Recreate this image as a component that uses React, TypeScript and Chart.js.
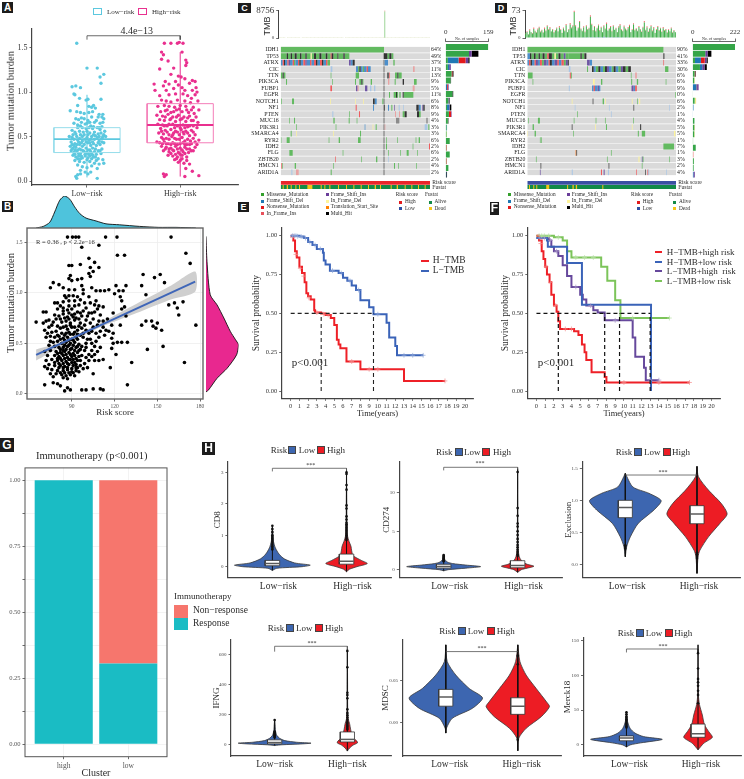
import React, { useEffect, useRef } from "react";
import { Chart, registerables } from "chart.js";
Chart.register(...registerables);

const SERIF = '"Liberation Serif"';
const SANS = '"Liberation Sans"';
const INK = "#2b2b2b";

/* ---------- Panel A ---------- */
const riskLabels = ["Low−risk", "High−risk"];
const aLowBox = [0.32, 0.47, 0.6];
const aHighBox = [0.43, 0.63, 0.87];
const aLowWhisk = [0.04, 0.97];
const aHighWhisk = [0.05, 1.45];
const aLowPts = [[0.89,1.55],[1.0,1.27],[1.11,1.27],[1.18,1.2],[1.14,1.17],[1.15,1.1],[0.84,1.06],[0.88,1.07],[0.93,1.05],[0.86,0.98],[0.87,0.97],[0.99,0.91],[1.01,0.92],[1.15,0.92],[0.92,0.93],[0.9,0.85],[1.02,0.84],[1.05,0.83],[1.07,0.85],[1.09,0.82],[0.82,0.79],[0.89,0.78],[0.93,0.77],[0.97,0.76],[1.13,0.75],[1.17,0.75],[1.16,0.72],[1.18,0.7],[0.88,0.7],[0.91,0.69],[0.94,0.71],[0.97,0.7],[1.01,0.68],[1.05,0.72],[1.08,0.66],[1.14,0.65],[1.17,0.66],[0.86,0.65],[0.9,0.63],[0.93,0.62],[0.98,0.64],[1.02,0.6],[1.04,0.62],[1.06,0.59],[1.11,0.6],[1.14,0.58],[1.19,0.56],[0.84,0.57],[0.87,0.55],[0.92,0.56],[0.96,0.55],[1.0,0.56],[1.03,0.54],[1.08,0.55],[1.12,0.53],[1.15,0.54],[1.18,0.52],[1.2,0.5],[0.81,0.5],[0.84,0.49],[0.86,0.47],[0.89,0.5],[0.92,0.48],[0.95,0.5],[0.98,0.47],[1.0,0.49],[1.02,0.46],[1.05,0.5],[1.08,0.47],[1.11,0.49],[1.13,0.45],[1.16,0.48],[0.83,0.44],[0.87,0.42],[0.91,0.44],[0.94,0.43],[0.97,0.41],[1.01,0.43],[1.04,0.4],[1.07,0.42],[1.1,0.4],[1.14,0.41],[1.18,0.43],[0.82,0.39],[0.85,0.37],[0.88,0.38],[0.92,0.36],[0.95,0.39],[0.99,0.37],[1.03,0.35],[1.06,0.37],[1.09,0.36],[1.12,0.34],[1.16,0.36],[0.83,0.34],[0.86,0.32],[0.89,0.33],[0.93,0.31],[0.96,0.34],[1.0,0.32],[1.02,0.3],[1.05,0.31],[1.1,0.3],[1.15,0.31],[0.85,0.29],[0.88,0.27],[0.91,0.28],[0.95,0.26],[0.98,0.28],[1.01,0.26],[1.07,0.27],[1.12,0.25],[1.17,0.24],[0.87,0.23],[0.92,0.22],[0.97,0.21],[1.03,0.22],[1.08,0.2],[1.13,0.19],[1.18,0.2],[0.9,0.18],[0.95,0.16],[1.0,0.15],[1.05,0.17],[1.11,0.14],[0.93,0.12],[0.98,0.1],[1.04,0.1],[1.01,0.08],[0.9,0.07],[0.93,0.08],[0.88,0.05],[0.89,0.03],[1.11,0.03]];
const aLowExtra = [[0.85,0.52],[0.88,0.53],[0.9,0.46],[0.93,0.52],[0.97,0.52],[1.01,0.52],[1.04,0.47],[1.07,0.52],[1.09,0.51],[1.13,0.5],[1.17,0.5],[0.84,0.41],[0.86,0.4],[0.89,0.41],[0.92,0.41],[0.95,0.45],[0.99,0.44],[1.03,0.43],[1.06,0.44],[1.12,0.43],[1.16,0.44],[0.84,0.36],[0.87,0.35],[0.9,0.35],[0.94,0.35],[0.97,0.33],[1.01,0.35],[1.04,0.33],[1.08,0.33],[1.14,0.34],[0.87,0.3],[0.91,0.31],[0.94,0.28],[0.98,0.3],[1.03,0.28],[1.06,0.29],[1.09,0.27],[0.9,0.25],[0.93,0.25],[1.0,0.24],[1.05,0.25],[1.1,0.23],[0.9,0.6],[0.95,0.6],[0.99,0.59],[1.07,0.61],[1.13,0.6],[1.16,0.61],[0.94,0.66],[1.0,0.65],[1.03,0.66],[1.1,0.68],[1.12,0.72],[1.02,0.77],[1.06,0.78]];
const aHighPts = [[1.83,1.55],[1.9,1.55],[1.97,1.55],[1.99,1.56],[2.03,1.55],[1.8,1.45],[1.82,1.42],[2.02,1.45],[1.8,1.37],[1.87,1.35],[2.06,1.36],[2.07,1.33],[1.78,1.26],[2.06,1.3],[1.93,1.27],[1.9,1.2],[1.98,1.18],[2.01,1.17],[2.05,1.15],[2.13,1.13],[2.16,1.12],[1.84,1.12],[1.95,1.12],[2.1,1.1],[1.72,1.09],[1.82,1.07],[1.88,1.09],[1.98,1.08],[2.02,1.05],[2.17,1.05],[1.73,1.02],[1.85,1.02],[1.93,1.04],[2.05,1.02],[2.13,1.02],[2.18,1.0],[1.78,0.96],[1.88,0.97],[1.95,0.98],[2.03,0.98],[2.08,0.96],[2.12,0.93],[2.16,0.97],[1.8,0.91],[1.85,0.9],[1.9,0.89],[1.97,0.91],[2.05,0.9],[2.11,0.88],[2.19,0.9],[1.76,0.84],[1.83,0.85],[1.88,0.84],[1.94,0.83],[2.0,0.85],[2.06,0.84],[2.14,0.83],[2.2,0.8],[1.79,0.78],[1.84,0.79],[1.9,0.77],[1.96,0.8],[2.02,0.78],[2.09,0.77],[2.15,0.76],[1.75,0.74],[1.81,0.73],[1.87,0.75],[1.92,0.72],[1.98,0.74],[2.04,0.72],[2.1,0.73],[2.17,0.72],[1.78,0.69],[1.83,0.68],[1.89,0.69],[1.95,0.67],[2.0,0.69],[2.06,0.67],[2.12,0.68],[2.19,0.66],[1.76,0.64],[1.81,0.63],[1.86,0.62],[1.92,0.64],[1.97,0.62],[2.03,0.63],[2.08,0.61],[2.14,0.62],[2.18,0.6],[1.79,0.59],[1.84,0.57],[1.9,0.58],[1.95,0.56],[2.01,0.58],[2.06,0.56],[2.12,0.57],[1.77,0.54],[1.82,0.53],[1.88,0.52],[1.93,0.54],[1.99,0.52],[2.04,0.53],[2.1,0.51],[2.16,0.52],[1.8,0.49],[1.85,0.48],[1.91,0.5],[1.96,0.47],[2.02,0.49],[2.08,0.47],[2.14,0.48],[2.2,0.46],[1.75,0.44],[1.78,0.43],[1.83,0.44],[1.87,0.42],[1.92,0.43],[1.97,0.41],[2.03,0.43],[2.07,0.41],[2.12,0.42],[2.18,0.41],[1.8,0.39],[1.85,0.38],[1.9,0.37],[1.95,0.39],[2.0,0.37],[2.05,0.38],[2.1,0.36],[2.16,0.38],[1.82,0.34],[1.88,0.33],[1.93,0.34],[1.98,0.32],[2.03,0.33],[2.09,0.32],[2.14,0.34],[1.87,0.29],[1.92,0.28],[1.97,0.27],[2.02,0.29],[2.07,0.27],[1.94,0.24],[2.0,0.23],[1.98,0.21],[2.04,0.2],[2.1,0.19],[2.06,0.14],[1.82,0.08],[1.85,0.07],[1.83,0.05],[2.13,0.11],[2.2,0.06],[2.05,0.05]];
const aHighExtra = [[1.86,0.8],[1.93,0.78],[1.99,0.81],[2.07,0.8],[2.12,0.8],[1.84,0.72],[1.9,0.7],[1.96,0.72],[2.02,0.7],[2.08,0.71],[2.14,0.68],[1.83,0.62],[1.88,0.64],[1.94,0.6],[2.0,0.6],[2.05,0.6],[2.1,0.62],[1.8,0.56],[1.86,0.55],[1.92,0.52],[1.97,0.55],[2.03,0.55],[2.08,0.54],[2.14,0.55],[1.82,0.47],[1.88,0.47],[1.94,0.48],[1.99,0.47],[2.05,0.45],[2.11,0.45],[2.16,0.44],[1.81,0.42],[1.85,0.42],[1.9,0.41],[1.94,0.42],[2.0,0.42],[2.05,0.41],[2.1,0.41],[1.84,0.36],[1.88,0.36],[1.92,0.35],[1.97,0.36],[2.02,0.35],[2.07,0.36],[2.12,0.34],[1.9,0.31],[1.95,0.3],[2.0,0.3],[2.05,0.31],[1.96,0.25],[2.02,0.25],[2.07,0.23]];

/* ---------- Panel B ---------- */
const bPts = [[87,1.55],[90.5,1.55],[92.8,1.55],[94.9,1.55],[113.7,1.55],[121.7,1.55],[159.6,1.55],[109,1.47],[97,1.45],[122,1.37],[127,1.37],[170,1.39],[102,1.34],[173,1.29],[106,1.3],[96,1.28],[109,1.25],[88,1.27],[90,1.27],[103,1.25],[105,1.21],[102,1.19],[103,1.16],[89,1.17],[88,1.14],[90,1.12],[94,1.13],[97,1.14],[140,1.18],[148,1.15],[152,1.18],[77,1.1],[75,1.05],[81,1.08],[84,1.05],[88,1.03],[92,1.03],[97,1.07],[98,1.03],[104,1.05],[107,1.02],[110,1.02],[113,1.02],[121,1.07],[128,1.07],[139,1.07],[155,1.1],[116,1.03],[123,1.02],[126,1.02],[85,0.97],[88,0.97],[91,0.97],[94,0.96],[98,0.99],[102,0.96],[120,0.99],[124,0.96],[142,0.98],[125,0.92],[78,0.9],[80,0.9],[84,0.91],[88,0.92],[92,0.92],[95,0.88],[99,0.9],[103,0.9],[106,0.88],[109,0.87],[112,0.86],[127,0.86],[158,0.88],[162,0.9],[168,0.91],[164,0.85],[165,0.78],[70,0.81],[72,0.81],[80,0.84],[84,0.85],[87,0.83],[90,0.84],[94,0.81],[98,0.82],[106,0.81],[108,0.84],[110,0.78],[119,0.8],[125,0.84],[128,0.77],[142,0.72],[146,0.72],[150,0.7],[78,0.78],[81,0.77],[84,0.79],[87,0.76],[90,0.78],[93,0.75],[97,0.77],[100,0.73],[105,0.74],[112,0.72],[65,0.71],[74,0.73],[77,0.71],[79,0.74],[83,0.71],[86,0.72],[89,0.7],[92,0.73],[96,0.7],[103,0.7],[108,0.68],[118,0.68],[124,0.68],[139,0.68],[147,0.67],[149,0.65],[153,0.63],[177,0.68],[76,0.68],[80,0.67],[84,0.66],[87,0.64],[90,0.66],[94,0.63],[97,0.65],[100,0.63],[71,0.63],[73,0.6],[79,0.62],[83,0.6],[86,0.6],[89,0.59],[92,0.61],[96,0.58],[102,0.6],[114,0.63],[119,0.6],[75,0.57],[78,0.56],[81,0.57],[84,0.55],[87,0.56],[90,0.54],[93,0.56],[98,0.56],[103,0.54],[109,0.56],[118,0.55],[77,0.51],[80,0.52],[83,0.5],[86,0.51],[89,0.5],[92,0.51],[95,0.49],[100,0.5],[106,0.47],[119,0.5],[122,0.51],[125,0.51],[129,0.51],[154,0.47],[118,0.45],[74,0.48],[78,0.47],[81,0.46],[84,0.46],[87,0.47],[90,0.45],[93,0.46],[96,0.44],[110,0.46],[143,0.44],[75,0.43],[79,0.42],[82,0.41],[85,0.42],[88,0.41],[91,0.4],[94,0.41],[99,0.43],[121,0.39],[78,0.38],[81,0.37],[84,0.38],[87,0.36],[90,0.37],[93,0.35],[97,0.38],[104,0.37],[76,0.34],[80,0.33],[83,0.33],[86,0.32],[89,0.34],[92,0.31],[96,0.33],[102,0.33],[109,0.33],[112,0.34],[132,0.31],[169,0.31],[74,0.29],[78,0.28],[82,0.28],[85,0.27],[88,0.29],[91,0.28],[94,0.26],[99,0.3],[73,0.25],[76,0.24],[80,0.23],[84,0.23],[87,0.24],[90,0.22],[93,0.23],[117,0.26],[79,0.2],[83,0.19],[86,0.18],[89,0.19],[92,0.18],[105,0.2],[84,0.16],[87,0.15],[71,0.09],[77,0.11],[80,0.1],[82,0.08],[87,0.06],[89,0.04],[85,0.03],[97,0.04],[100,0.04],[105,0.05],[110,0.05],[112,0.04],[129,0.09]];
const bDense = [[80,0.58],[82,0.54],[85,0.53],[88,0.53],[91,0.53],[94,0.54],[85,0.48],[88,0.48],[91,0.48],[94,0.47],[97,0.47],[82,0.44],[84,0.43],[86,0.44],[89,0.44],[92,0.43],[95,0.43],[80,0.4],[83,0.4],[86,0.39],[89,0.39],[92,0.38],[95,0.37],[80,0.35],[82,0.35],[85,0.35],[88,0.34],[91,0.34],[94,0.33],[78,0.31],[81,0.3],[84,0.3],[87,0.3],[90,0.31],[93,0.29],[96,0.28],[81,0.26],[84,0.26],[87,0.26],[90,0.25],[93,0.26],[82,0.21],[85,0.21],[88,0.21],[91,0.21],[95,0.22],[85,0.58],[88,0.61],[91,0.59],[94,0.59],[98,0.6],[82,0.65],[86,0.67],[89,0.68],[92,0.66],[95,0.67],[99,0.68],[82,0.74],[85,0.75],[88,0.74],[91,0.76],[95,0.74],[84,0.82],[88,0.8],[92,0.79],[96,0.8],[102,0.8],[75,0.52],[72,0.56],[76,0.61],[74,0.66],[72,0.72],[70,0.7],[101,0.54],[104,0.5],[107,0.52],[100,0.46],[104,0.43],[108,0.42],[102,0.39],[106,0.39],[100,0.36],[106,0.33],[98,0.25],[101,0.26],[104,0.62],[107,0.6],[110,0.62],[113,0.58],[112,0.66],[116,0.62],[105,0.66],[109,0.72],[115,0.74],[101,0.77],[104,0.8],[107,0.92],[100,0.85],[88,0.87],[92,0.87],[82,0.87],[96,0.93],[86,0.95],[73,0.38],[71,0.42],[72,0.33],[71,0.27],[75,0.2],[77,0.17]];
const bFit = [[65,0.386],[176.5,1.11]];
const bBandX = [65,80,90,100,110,120,140,160,176.5];
const bBandHigh = [0.44,0.5,0.565,0.63,0.7,0.775,0.925,1.075,1.21];
const bBandLow = [0.33,0.45,0.53,0.59,0.66,0.715,0.825,0.935,1.01];
const bTopX = [65,70,74.6,78,81.6,85,88.6,92,95.6,100,107,114,123.5,137.5,151,163,177];
const bTopD = [0,0.05,0.18,0.5,0.87,1,0.9,0.66,0.45,0.31,0.22,0.13,0.1,0.05,0.02,0.02,0];
const bSideY = [1.557,1.31,0.98,0.88,0.75,0.617,0.535,0.485,0.386,0.254,0.155,0.04,0.02];
const bSideD = [0,0.03,0.13,0.34,0.55,0.75,0.91,1,0.94,0.65,0.34,0.08,0];

/* ---------- Panels C, D (oncoplots) ---------- */
const genesC = ["IDH1","TP53","ATRX","CIC","TTN","PIK3CA","FUBP1","EGFR","NOTCH1","NF1","PTEN","MUC16","PIK3R1","SMARCA4","RYR2","IDH2","FLG","ZBTB20","HMCN1","ARID1A"];
const pctC = ["64%","49%","37%","11%","13%","9%","5%","11%","6%","8%","9%","4%","3%","3%","6%","2%","6%","2%","4%","2%"];
const pctD = ["90%","41%","33%","30%","6%","6%","9%","0%","6%","2%","1%","4%","5%","5%","1%","7%","1%","3%","2%","4%"];
const typeColor: Record<string,string> = { g:"#8b8b8b", m:"#62BA60", b:"#4C8FCB", r:"#EE5A5C", p:"#6E55A3", y:"#FFF59A", o:"#F59A5B", k:"#333333", q:"#E8A3A3", l:"#A8C6E6" };
type Seg = [number,number,string];
const cHeatRows: Seg[][] = [
 [[0,310,"m"]],
 [[0,18,"m"],[18,22,"k"],[22,30,"m"],[30,34,"k"],[34,42,"m"],[42,48,"k"],[48,58,"m"],[58,62,"k"],[62,74,"m"],[74,78,"k"],[78,90,"m"],[90,93,"y"],[93,100,"m"],[100,106,"k"],[106,116,"m"],[116,122,"k"],[122,135,"m"],[135,140,"k"],[140,150,"m"],[150,153,"r"],[153,158,"k"],[158,170,"m"],[170,173,"k"],[173,188,"m"],[188,192,"k"],[192,206,"m"],[310,320,"k"],[320,326,"m"],[326,332,"k"],[332,338,"m"]],
 [[0,6,"b"],[6,10,"r"],[10,13,"k"],[13,20,"b"],[20,24,"r"],[24,28,"p"],[28,36,"b"],[36,40,"r"],[40,44,"m"],[44,52,"b"],[52,56,"r"],[56,60,"k"],[60,68,"b"],[68,74,"r"],[74,78,"p"],[78,88,"b"],[88,92,"r"],[92,100,"b"],[100,106,"r"],[106,110,"k"],[110,118,"b"],[118,124,"r"],[124,128,"k"],[128,136,"b"],[136,140,"r"],[140,148,"m"],[205,210,"p"],[210,216,"b"],[216,222,"k"],[312,322,"b"],[338,342,"m"]],
 [[150,155,"l"],[226,232,"b"],[232,236,"m"],[236,240,"k"],[240,246,"b"],[246,250,"m"],[250,258,"b"],[258,262,"r"],[262,270,"b"],[397,402,"q"]],
 [[0,6,"m"],[6,9,"k"],[9,14,"m"],[150,152,"m"],[225,235,"m"],[320,324,"k"],[326,328,"r"],[343,350,"m"],[350,353,"k"],[353,363,"m"]],
 [[16,19,"m"],[154,156,"m"],[223,226,"m"],[236,242,"m"],[242,245,"k"],[245,248,"m"],[270,274,"m"],[322,326,"q"],[342,345,"m"],[366,370,"k"],[400,408,"m"]],
 [[149,154,"r"],[226,230,"p"],[230,234,"q"],[253,260,"p"],[268,272,"l"],[280,284,"l"],[396,402,"q"]],
 [[325,328,"m"],[339,346,"m"],[346,349,"k"],[349,352,"m"],[356,360,"m"],[366,369,"k"],[369,398,"m"]],
 [[1,3,"m"],[34,40,"m"],[148,150,"y"],[223,225,"y"],[248,250,"y"],[277,282,"k"],[282,288,"b"],[305,308,"m"]],
 [[225,228,"r"],[277,280,"b"],[310,312,"k"],[322,325,"b"],[332,335,"m"],[341,343,"p"],[354,357,"l"],[368,370,"l"],[407,414,"k"],[414,420,"b"],[425,428,"p"],[428,432,"k"]],
 [[155,158,"l"],[205,207,"m"],[235,238,"r"],[343,346,"q"],[355,358,"q"],[366,372,"m"],[372,378,"k"],[409,415,"k"],[415,420,"m"]],
 [[25,27,"m"],[40,43,"m"],[158,162,"m"],[204,207,"m"],[228,230,"m"],[346,356,"g"],[438,440,"k"]],
 [[46,48,"m"],[165,167,"m"],[252,254,"b"],[276,278,"y"],[285,288,"m"],[312,314,"q"],[432,440,"l"],[443,446,"m"]],
 [[30,33,"m"],[46,48,"y"],[158,160,"y"],[238,241,"m"]],
 [[0,2,"m"],[18,27,"m"],[144,146,"m"],[174,178,"m"],[232,240,"m"],[316,318,"m"],[350,352,"m"],[405,407,"m"],[414,418,"m"]],
 [[316,319,"m"],[396,398,"m"],[445,448,"r"]],
 [[26,36,"m"],[186,188,"m"],[322,324,"m"],[358,360,"m"],[378,384,"m"],[410,412,"m"]],
 [[163,165,"r"],[242,244,"m"],[286,290,"m"],[322,324,"l"]],
 [[2,4,"r"],[4,6,"m"],[42,46,"m"],[158,160,"m"],[340,343,"m"],[352,354,"m"],[406,408,"m"]],
 [[32,35,"l"],[46,54,"q"],[150,153,"m"]],
];
const cHotColumn = [308,312];
const cFustatYellow = [[6,9],[18,22],[30,33],[44,47],[55,58],[80,95],[120,123],[131,134],[146,149],[172,175],[196,199],[218,221],[240,243],[262,265],[282,286],[298,301],[330,333],[348,352],[372,375],[392,395],[412,415],[432,435]];
const dHeatRows: Seg[][] = [
 [[0,410,"m"]],
 [[0,8,"b"],[8,12,"k"],[12,20,"m"],[20,25,"k"],[25,34,"m"],[34,38,"k"],[38,46,"m"],[46,52,"k"],[52,60,"m"],[60,65,"r"],[65,74,"k"],[74,82,"m"],[82,86,"y"],[86,94,"m"],[94,100,"k"],[100,110,"m"],[110,115,"p"],[115,125,"m"],[125,160,"m"],[160,164,"k"],[164,172,"m"],[172,178,"k"],[410,413,"k"]],
 [[0,5,"b"],[5,10,"r"],[10,14,"k"],[14,22,"b"],[22,26,"r"],[26,32,"p"],[32,38,"b"],[38,44,"r"],[44,50,"m"],[50,58,"p"],[58,64,"b"],[64,68,"r"],[68,74,"k"],[74,82,"b"],[82,90,"p"],[90,95,"r"],[95,103,"b"],[103,110,"r"],[110,116,"m"],[116,122,"p"],[122,125,"k"],[180,188,"p"],[188,195,"b"],[410,412,"r"]],
 [[125,130,"l"],[180,183,"m"],[195,200,"k"],[200,206,"b"],[206,214,"m"],[214,220,"k"],[220,228,"b"],[228,234,"m"],[234,240,"k"],[240,246,"p"],[246,254,"b"],[254,260,"m"],[260,266,"k"],[266,274,"b"],[274,282,"m"],[282,288,"p"],[288,296,"k"],[296,304,"m"],[304,312,"k"],[415,425,"m"]],
 [[2,16,"m"],[128,131,"r"],[131,134,"m"],[312,314,"m"],[325,330,"q"]],
 [[16,18,"m"],[198,203,"y"],[222,226,"m"],[313,316,"m"],[330,334,"m"],[417,419,"m"]],
 [[125,128,"l"],[195,200,"b"],[200,204,"r"],[204,212,"b"],[212,216,"p"],[216,220,"b"],[314,320,"p"],[320,325,"b"],[325,330,"r"]],
 [[446,448,"m"]],
 [[134,136,"y"],[197,199,"k"],[227,231,"m"],[235,237,"y"],[315,317,"y"],[331,333,"m"],[337,340,"y"]],
 [[143,145,"l"],[246,248,"l"],[320,322,"k"],[428,430,"l"]],
 [[150,152,"m"],[252,254,"l"]],
 [[2,4,"m"],[32,38,"m"],[140,142,"m"],[206,208,"m"],[234,236,"m"],[319,321,"m"]],
 [[16,20,"m"],[134,136,"k"],[204,206,"y"],[237,240,"m"],[315,317,"y"],[340,343,"k"]],
 [[0,2,"y"],[22,26,"m"],[138,140,"m"],[333,336,"m"],[345,355,"m"],[442,446,"y"]],
 [[38,40,"m"],[42,44,"m"]],
 [[410,442,"m"]],
 [[145,148,"o"],[148,150,"k"],[252,254,"m"]],
 [[26,28,"m"],[240,242,"m"],[335,338,"y"],[345,347,"p"],[347,350,"m"],[428,430,"m"]],
 [[40,42,"k"],[245,247,"k"],[345,347,"m"]],
 [[38,40,"p"],[134,137,"l"],[222,225,"r"],[230,233,"p"],[243,246,"l"],[328,330,"r"],[355,357,"k"],[362,364,"r"],[364,367,"l"],[418,420,"l"]],
];
const dFustatYellow = [[5,8],[18,21],[27,30],[57,66],[120,123],[136,140],[146,150],[226,229]];
const tmbCTiny = [90,70,110,60,80,120,70,90,60,100,80,70,110,90,60,80,120,70,60,90,100,70,80,60,110,90,70,80,100,60,90,70,80,110,60,90,70,100,80,60,90,110,70,80,60,100,90,70,120,80,60,90,70,100,80,60,110,70,90,80,60,100,70,90,80,110,60,70,100,80,90,60,110,70,80,90,70,80,100,60,90,110,70,80,60,100,90,70,80,60,110,90,70,100,60,80,90,70,110,80,60,90,100,70,80,60,90,70,110,80,90,70];
const tmbCMain = [0,0,0,0,0,0,0,0,0,0,0,0,0,0,0,0,0,0,0,0,0,0,0,0,0,0,0,0,0,0,0,0,0,0,0,0,0,0,0,0,0,0,0,0,0,0,0,0,0,0,0,0,0,0,0,0,0,0,0,0,0,0,0,0,0,0,0,0,0,0,0,0,0,0,0,0,0,0,8300,0,0,0,0,0,0,0,0,0,0,0,0,0,0,0,0,0,0,0,0,0,0,0,0,0,0,0,0,0,0,0,0,0];
const tmbCTop = [0,0,0,0,0,0,0,0,0,0,0,0,0,0,0,0,0,0,0,0,0,0,0,0,0,0,0,0,0,0,0,0,0,0,0,0,0,0,0,0,0,0,0,0,0,0,0,0,0,0,0,0,0,0,0,0,0,0,0,0,0,0,0,0,0,0,0,0,0,0,0,0,0,0,0,0,0,0,370,0,0,0,0,0,0,0,0,0,0,0,0,0,0,0,0,0,0,0,0,0,0,0,0,0,0,0,0,0,0,0,0,0];
const tmbDMain = [12,16,9,20,14,11,24,17,13,22,27,15,19,14,24,18,30,21,26,16,22,14,19,24,17,28,20,13,25,18,33,15,21,36,26,30,67,30,19,25,41,22,17,26,14,30,20,24,54,33,19,27,16,23,31,18,25,14,28,21,36,17,23,27,15,30,19,24,13,26,33,20,16,29,22,18,25,31,14,21,35,19,24,17,28,22,15,26,40,20,27,16,23,30,18,25,13,21,28,19,24,16,26,18,22,14,20,17,25,13,19,15];
const tmbDBlue = [0,0,0,0,1,0,0,0,1,0,0,0,1,0,0,0,1,0,0,1,0,0,0,1,0,0,1,0,0,0,1,0,1,0,0,1,2,1,0,1,1,1,1,2,1,1,2,1,2,2,1,2,1,2,2,1,2,1,3,2,1,2,1,2,2,1,2,1,2,2,1,1,2,1,1,2,1,1,1,0,1,1,0,1,1,0,1,1,1,0,1,0,1,1,0,1,0,0,1,0,1,0,0,1,0,0,1,0,0,1,0,0];
const tmbDRed = [1,2,1,3,1,2,4,2,1,3,3,2,2,1,4,2,3,2,3,1,2,2,2,3,1,4,2,1,3,2,3,1,2,4,2,3,4,3,1,2,3,2,1,3,2,3,2,2,4,3,1,3,2,2,3,2,3,1,3,2,4,1,2,3,2,3,1,2,1,3,3,2,1,3,2,2,3,3,1,2,3,2,2,1,3,2,1,3,4,2,3,1,2,3,2,3,1,2,3,2,2,1,3,2,2,1,2,1,3,1,2,1];
/* stacked "No. of samples" bars, gene order as genesC */
const cBarM = [159,87,8,8,22,18,0,25,10,5,12,8,3,3,15,2,15,2,10,0];
const cBarB = [0,0,40,5,0,0,5,0,0,8,0,0,2,0,0,0,0,0,0,2];
const cBarR = [0,0,26,0,3,0,3,0,0,0,8,0,0,0,0,2,0,2,0,0];
const cBarP = [0,10,10,6,0,0,3,0,3,2,2,0,0,0,0,0,0,0,0,0];
const cBarY = [0,0,0,0,0,0,0,0,0,0,0,0,0,2,0,0,0,0,0,0];
const cBarK = [0,25,5,0,4,2,0,3,2,6,0,2,0,0,0,0,0,0,0,3];
const dBarM = [222,66,12,38,10,8,0,1,10,0,0,9,8,8,2,16,1,6,5,0];
const dBarB = [0,0,31,12,0,0,20,0,0,4,1,0,0,0,0,0,0,0,0,4];
const dBarR = [0,0,20,0,3,0,3,0,0,0,0,0,0,0,0,0,2,0,0,0];
const dBarP = [0,12,9,12,0,0,8,0,0,0,0,0,0,0,0,0,0,0,0,7];
const dBarY = [0,0,0,0,0,3,0,0,8,0,0,0,3,3,0,0,0,1,0,0];
const dBarK = [0,20,7,12,3,0,0,0,0,0,0,0,1,0,0,0,0,0,0,0];

/* ---------- Panels E, F (survival) ---------- */
const eHigh = [[0,1],[0.3,0.97],[0.5,0.9],[0.7,0.86],[1,0.8],[1.3,0.76],[1.6,0.7],[1.8,0.63],[2,0.61],[2.3,0.59],[2.7,0.52],[2.8,0.505],[3.5,0.5],[4,0.49],[4.6,0.47],[5,0.425],[5.3,0.33],[5.5,0.3],[5.7,0.275],[6.4,0.19],[8,0.14],[13,0.065],[17.7,0.065]];
const eLow = [[0,1],[1,0.995],[1.5,0.985],[2,0.96],[2.5,0.94],[3,0.915],[3.7,0.89],[3.8,0.84],[4,0.815],[4.5,0.775],[5.5,0.76],[6,0.73],[6.5,0.71],[7,0.68],[7.5,0.65],[8,0.585],[9,0.54],[9.5,0.495],[11,0.44],[11.3,0.345],[12,0.29],[12.2,0.23],[15.2,0.23]];
const eHighCens = [[0.2,0.99],[0.6,0.88],[1.1,0.79],[1.5,0.74],[2.1,0.6],[3,0.505],[3.8,0.495],[4.3,0.49],[7,0.19],[9,0.14],[10,0.14],[17.7,0.065]];
const eLowCens = [[0.2,1],[0.4,1],[0.6,1],[0.8,0.997],[1.2,0.995],[1.7,0.985],[2.2,0.96],[2.8,0.94],[3.4,0.915],[4.8,0.775],[5.8,0.76],[6.8,0.71],[7.8,0.65],[10,0.495],[13,0.23],[14,0.23],[15.2,0.23]];
const eCuts = [3.5,9.5];
const fHH = [[0,1],[0.3,0.97],[0.6,0.9],[0.8,0.85],[1,0.8],[1.2,0.75],[1.5,0.7],[1.7,0.62],[2,0.55],[2.3,0.51],[2.5,0.45],[2.7,0.4],[4.3,0.385],[4.8,0.36],[5.2,0.3],[5.5,0.25],[5.7,0.2],[6.3,0.12],[7.8,0.09],[8,0.055],[17.5,0.055]];
const fHL = [[0,0.985],[1.2,0.97],[1.3,0.93],[3.5,0.825],[5.2,0.555],[13.1,0]];
const fLH = [[0,0.985],[1.4,0.97],[1.7,0.93],[2,0.9],[2.5,0.87],[3,0.81],[3.5,0.74],[4,0.67],[5,0.62],[5.3,0.59],[5.7,0.55],[6.5,0.52],[7,0.505],[7.8,0.455],[11,0.345],[11.3,0.22],[12.3,0.15],[12.5,0.07],[14,0.07]];
const fLL = [[0,1],[2,0.99],[3,0.97],[3.5,0.9],[4,0.86],[7.4,0.8],[8.1,0.71],[9,0.585],[9.6,0.47],[15.2,0.47]];
const fHHCens = [[0.5,0.95],[1.1,0.8],[1.6,0.7],[2.2,0.55],[3.3,0.4],[4,0.4],[10,0.055],[14,0.055],[17.5,0.055]];
const fLLCens = [[0.3,1],[0.6,1],[0.9,1],[1.4,1],[2.5,0.99],[4.5,0.86],[5.5,0.86],[6.5,0.86],[11,0.47],[15.2,0.47]];
const fLHCens = [[0.4,0.985],[0.9,0.985],[1.6,0.97],[2.3,0.9],[4.5,0.67],[6.2,0.55],[9,0.455],[13,0.07],[14,0.07]];
const fCuts = [2.5,7.8,9.5,13];

/* ---------- Panel G ---------- */
const gClusters = ["high","low"];
const gResponse = [1,0.305];
const gNonResponse = [0,0.695];

/* ---------- Panel H (violins): value / half width pairs ---------- */
const cd8LowV = [-0.12,-0.05,0,0.05,0.12,0.25,0.4,0.6,0.8,1,1.3];
const cd8LowW = [0,0.06,0.4,0.51,0.3,0.16,0.09,0.04,0.015,0.008,0];
const cd8HighV = [-0.16,-0.08,0,0.1,0.2,0.35,0.5,0.65,0.8,1,1.5,2.2,3.05];
const cd8HighW = [0,0.04,0.14,0.28,0.2,0.09,0.07,0.06,0.035,0.012,0.005,0.003,0];
const cd8Box = [[0.03,0.1,0.2],[0.08,0.17,0.4]];
const cd8Out = [[0.55,0.6,0.65,0.7,0.75,0.8,0.85,0.9,0.95,1,1.1,1.2,1.3],[0.85,0.9,0.95,1,1.05,1.1,1.15,1.2,1.25,1.3,1.35,1.4,1.5,1.6,1.85,1.95,2.45,2.6,2.95,3]];
const cd274LowV = [-0.15,0,0.2,0.4,0.6,0.8,1,1.4,1.9];
const cd274LowW = [0,0.06,0.3,0.5,0.3,0.12,0.05,0.01,0];
const cd274HighV = [-0.35,0,0.2,0.45,0.7,1,1.5,2,3,6,9,13];
const cd274HighW = [0,0.05,0.13,0.22,0.13,0.07,0.03,0.015,0.006,0.003,0.002,0];
const cd274Box = [[0.2,0.42,0.7],[0.25,0.55,1.17]];
const cd274Out = [[1.1,1.2,1.3,1.4,1.5,1.6,1.7,1.8,1.9],[1.8,2,2.3,2.6,2.9,3.2,3.6,4,4.5,5,5.6,6,7,8,12.7]];
const exLowV = [1.42,1.21,1.11,0.995,0.85,0.64,0.43,0.28,0.12];
const exLowW = [0,0.105,0.33,0.5,0.4,0.18,0.07,0.02,0];
const exHighV = [1.53,1.37,1.16,0.95,0.786,0.64,0.43,0.22,0.12,-0.14];
const exHighW = [0,0.02,0.16,0.34,0.42,0.32,0.16,0.04,0.015,0];
const exBox = [[0.73,0.89,1],[0.635,0.786,0.917]];
const exOut = [[0.25,0.28,0.3],[0.1,0.13,0.16,0.18]];
const ifLowV = [-8,-3,3,8,14,25,40,60,90,130,165];
const ifLowW = [0,0.1,0.38,0.5,0.3,0.14,0.07,0.03,0.012,0.006,0];
const ifHighV = [-45,-25,-5,10,22,40,70,100,140,170,250,400,620];
const ifHighW = [0,0.03,0.08,0.14,0.13,0.09,0.06,0.045,0.03,0.012,0.004,0.003,0];
const ifBox = [[3,12,30],[16,33,83]];
const ifOut = [[45,50,55,60,65,70,75,80,85,163],[100,110,120,130,140,150,165,180,195,210,235,308,330,345,516,625]];
const ifTicks = [0,200,400,600];
const mdLowV = [0.093,0.073,0.057,0.041,0.0298,0.0175,0.0056,-0.006,-0.012];
const mdLowW = [0,0.02,0.14,0.326,0.51,0.37,0.09,0.01,0];
const mdHighV = [0.093,0.073,0.057,0.041,0.025,0.0194,0.0075,-0.0063,-0.018,-0.033];
const mdHighW = [0,0.03,0.116,0.256,0.4,0.44,0.326,0.116,0.014,0];
const mdBox = [[0.02,0.031,0.04],[0.0103,0.02,0.03]];
const mdOut = [[],[0.08,0.07,-0.02]];
const meLowV = [-3,0,3,8,12,17,24,34,48];
const meLowW = [0,0.05,0.2,0.5,0.24,0.12,0.05,0.015,0];
const meHighV = [-7,2.4,11,19,29,43,58,72,144];
const meHighW = [0,0.08,0.2,0.15,0.09,0.06,0.02,0.005,0];
const meBox = [[6,10,13],[11,16,30]];
const meOut = [[25,27,29,31,33,35,37,39,41,44,47],[60,72,78,85,90,95,110,132]];

/* ---------- colours ---------- */
const CYAN = "#5CC8DF", PINK = "#E9308F", VBLUE = "#3D66B0", VRED = "#ED1C24";
const KRED = "#EE2027", KBLUE = "#3A63B8", KPURPLE = "#66489C", KGREEN = "#7CC45A";

/* ---------- dataset helpers ---------- */
const pts = (a: number[][]) => a.map(([x, y]) => ({ x, y }));
const line = (a: number[][], color: string, width = 1, extra: any = {}) => ({
  type: "scatter", data: pts(a), showLine: true, borderColor: color, borderWidth: width, pointRadius: 0, backgroundColor: color, ...extra,
});
const dots = (a: number[][], color: string, r = 1.7, extra: any = {}) => ({
  type: "scatter", data: pts(a), showLine: false, pointRadius: r, pointBorderWidth: 0, pointBackgroundColor: color, backgroundColor: color, ...extra,
});
const shape = (a: number[][], fill: string, stroke: string, width = 0.8) =>
  line(a, stroke, width, { fill: "shape", backgroundColor: fill, tension: 0.25 });
const rectPath = (c: number, hw: number, lo: number, hi: number) => [[c - hw, lo], [c + hw, lo], [c + hw, hi], [c - hw, hi], [c - hw, lo]];

function violin(c: number, vals: number[], ws: number[], color: string, box: number[], out: number[]) {
  const right = vals.map((v, i) => [c + ws[i], v]);
  const left = vals.map((v, i) => [c - ws[i], v]).reverse();
  return [
    shape([...right, ...left], color, "#3a3a3a", 0.8),
    line([[c, vals[0]], [c, vals[vals.length - 1]]], "#111", 1),
    dots(out.map((v) => [c, v]), "#111", 1.3),
    line(rectPath(c, 0.098, box[0], box[2]), "#333", 0.8, { fill: "shape", backgroundColor: "#fff" }),
    line([[c - 0.098, box[1]], [c + 0.098, box[1]]], "#5a5a5a", 1.5),
  ];
}

/* ---------- axis helper ---------- */
function lin(min: number, max: number, step: number, o: any = {}) {
  const keep = o.ticksAt
    ? (s: any) => { s.ticks = o.ticksAt.map((value: number) => ({ value })); }
    : o.keepFrom !== undefined
    ? (s: any) => { s.ticks = s.ticks.filter((t: any) => t.value >= o.keepFrom && t.value <= (o.keepTo ?? Infinity)); }
    : undefined;
  return {
    type: "linear", min, max,
    ...(o.stacked ? { stacked: true } : {}),
    ...(o.offsetFalse ? { offset: false } : {}),
    ...(o.position ? { position: o.position } : {}),
    ...(keep ? { afterBuildTicks: keep } : {}),
    ticks: {
      stepSize: step, includeBounds: false, autoSkip: false, maxRotation: 0, padding: o.pad ?? 2,
      labelOffset: o.labelOffset ?? 0,
      font: o.fontFn ?? { family: SERIF, size: o.size ?? 7 }, color: o.color ?? "#333",
      ...(o.cb ? { callback: o.cb } : {}),
    },
    grid: {
      display: true, drawOnChartArea: !!o.gridColor, color: o.gridColor ?? "#eee", lineWidth: 0.8, offset: false,
      drawTicks: o.noTick ? false : true, tickLength: o.tl ?? 2.5, tickColor: "#444", tickWidth: 0.8,
    },
    border: { display: !o.noBorder, color: o.borderColor ?? "#444", width: o.bw ?? 1.2 },
    ...(o.title ? { title: { display: true, text: o.title, padding: 0, color: o.titleColor ?? INK, font: { family: SERIF, size: o.titleSize ?? 9.5 } } } : {}),
  };
}
const hidden = (min: number, max: number, o: any = {}) => ({ type: "linear", display: false, min, max, ...o });
const riskTick = (v: number) => (v === 1 ? riskLabels[0] : v === 2 ? riskLabels[1] : "");
const frame = (color: string, w: number) => ({
  id: "frame",
  afterDraw(chart: any) {
    const { ctx, chartArea: a } = chart;
    ctx.save(); ctx.strokeStyle = color; ctx.lineWidth = w;
    ctx.strokeRect(a.left, a.top, a.right - a.left, a.bottom - a.top); ctx.restore();
  },
});

/* ---------- oncoplot helpers ---------- */
const rowBar = { grouped: false, barPercentage: 0.9, categoryPercentage: 1 };
function heatSpec(box: number[], plot: number[], rows: Seg[][], extraCol?: number[]) {
  const codes = ["g", "m", "y", "l", "q", "b", "r", "o", "p", "k"];
  const datasets: any[] = [{ data: genesC.map((g) => ({ x: [0, 448], y: g })), backgroundColor: "#DADADA", ...rowBar }];
  for (const c of codes) {
    const data: any[] = [];
    rows.forEach((row, i) => row.forEach(([s, e, t]) => { if (t === c) data.push({ x: [s, e], y: genesC[i] }); }));
    if (c === "g" && extraCol) genesC.slice(1).forEach((g) => data.push({ x: extraCol, y: g }));
    datasets.push({ data, backgroundColor: typeColor[c], ...rowBar });
  }
  return {
    box, plot, type: "bar", labels: genesC, indexAxis: "y", datasets,
    scales: {
      x: hidden(0, 448),
      y: { type: "category", grid: { display: false, drawTicks: false, offset: true }, border: { display: false },
           ticks: { autoSkip: false, padding: 2, color: "#222", font: { family: SERIF, size: 5.8 } } },
    },
  };
}
function withPct(spec: any, pct: string[]) {
  spec.scales.y2 = { type: "category", labels: pct, position: "right", grid: { display: false, drawTicks: false, offset: true }, border: { display: false },
    ticks: { autoSkip: false, padding: 1, color: "#222", font: { family: SERIF, size: 5.8 } } };
  return spec;
}
function annotSpec(box: number[], plot: number[], risk: string, yellow: number[][]) {
  const rowsL = ["Risk score", "Fustat"];
  const b = { grouped: false, barPercentage: 0.92, categoryPercentage: 1 };
  return {
    box, plot, type: "bar", labels: rowsL, indexAxis: "y",
    datasets: [
      { data: [{ x: [0, 448], y: rowsL[0] }], backgroundColor: risk, ...b },
      { data: [{ x: [0, 448], y: rowsL[1] }], backgroundColor: "#128A48", ...b },
      { data: yellow.map((s) => ({ x: s, y: rowsL[1] })), backgroundColor: "#F5C518", ...b },
    ],
    scales: { x: hidden(0, 448), y: { type: "category", display: false } },
  };
}
function barsSpec(box: number[], plot: number[], max: number, arrs: number[][]) {
  const cols = ["#35A548", "#1F78B4", "#E31A1C", "#6A3D9A", "#EDE98A", "#000"];
  return {
    box, plot, type: "bar", labels: genesC, indexAxis: "y", keepOrder: true,
    datasets: arrs.map((a, i) => ({ data: a, backgroundColor: cols[i], barPercentage: 0.88, categoryPercentage: 1 })),
    scales: { x: hidden(0, max, { stacked: true }), y: { type: "category", display: false, stacked: true } },
  };
}
function topAxisSpec(box: number[], plot: number[], max: number) {
  return {
    box, plot, type: "scatter", datasets: [],
    scales: { x: lin(0, max, max, { position: "top", size: 7, bw: 0.8 }), y: hidden(0, 1) },
  };
}
function tmbSpec(box: number[], plot: number[], max: number, n: number, series: { d: number[]; c: string }[]) {
  return {
    box, plot, type: "bar", keepOrder: true, labels: series[0].d.map((_, i) => String(i)),
    datasets: series.map((s) => ({ data: s.d, backgroundColor: s.c, barPercentage: n, categoryPercentage: 1 })),
    scales: {
      x: { type: "category", display: false, stacked: true },
      y: lin(0, max, max, { stacked: true, bw: 1, cb: (v: number) => String(v), fontFn: (c: any) => ({ family: SERIF, size: c.tick && c.tick.value > 0 ? 9 : 5 }) }),
    },
  };
}
function vioSpec(box: number[], plot: number[], yr: number[], title: string, labelOffset: number, sets: any[], yo: any = {}) {
  return {
    box, plot, type: "scatter", datasets: sets,
    scales: {
      x: lin(0.4, 2.6, 1, { cb: riskTick, size: 9.5, noTick: true, labelOffset, color: INK, pad: 3 }),
      y: lin(yr[0], yr[1], yr[2], { size: 5, title, titleSize: 9, color: "#444", ...yo }),
    },
  };
}
const bracket = (v: number, tick?: number) => line(tick !== undefined ? [[1, tick], [1, v], [2, v], [2, tick]] : [[1, v], [2, v]], "#555", 0.8);

/* ---------- chart list ---------- */
const aYMin = -0.045, aYMax = 1.71;
const bXMin = 58.6, bXMax = 182, bYMin = -0.05, bYMax = 1.64;
const kmY = { min: -0.047, max: 1.05 };
const kmYAxis = () => lin(kmY.min, kmY.max, 0.25, { size: 6.5, cb: (v: number) => v.toFixed(2), title: "Survival probability", titleSize: 9.5 });
const kmXAxis = (min: number, max: number) => lin(min, max, 1, { size: 6.5, keepFrom: 0, keepTo: 20, title: "Time(years)", titleSize: 8.5 });

const specs: any[] = [
  // A
  { box: [5, 22, 242, 200], plot: [32, 29, 238, 185], type: "scatter",
    datasets: [
      dots(aLowPts, CYAN, 1.7), dots(aLowExtra, CYAN, 1.7), dots(aHighPts, PINK, 1.7), dots(aHighExtra, PINK, 1.7),
      line([[1, aLowWhisk[0]], [1, aLowWhisk[1]]], CYAN, 1), line([[2, aHighWhisk[0]], [2, aHighWhisk[1]]], PINK, 1),
      line(rectPath(1, 0.355, aLowBox[0], aLowBox[2]), "#96DDEB", 1), line(rectPath(2, 0.355, aHighBox[0], aHighBox[2]), "#F47DB8", 1),
      line([[0.645, aLowBox[1]], [1.355, aLowBox[1]]], CYAN, 1.8), line([[1.645, aHighBox[1]], [2.355, aHighBox[1]]], PINK, 1.8),
      line([[1, 1.59], [1, 1.634], [2, 1.634], [2, 1.59]], "#444", 0.8),
    ],
    scales: {
      x: lin(0.41, 2.62, 1, { cb: riskTick, size: 8 }),
      y: lin(aYMin, aYMax, 0.5, { size: 8, cb: (v: number) => v.toFixed(1) }),
    } },
  // B top density
  { box: [27, 192, 203, 230], plot: [27, 196, 203, 228], type: "scatter",
    datasets: [shape(bTopX.map((x, i) => [x, bTopD[i]]), "#4EC3DC", "#111", 0.9)],
    scales: { x: hidden(bXMin, bXMax), y: hidden(0, 1) } },
  // B side density
  { box: [204, 226, 242, 401], plot: [206, 228, 238.5, 399], type: "scatter",
    datasets: [shape(bSideY.map((y, i) => [bSideD[i], y]), "#E8288F", "#111", 0.9)],
    scales: { x: hidden(0, 1), y: hidden(bYMin, bYMax) } },
  // B main
  { box: [5, 222, 210, 418], plot: [27, 228, 203, 399], type: "scatter", plugins: [frame("#666", 1.4)],
    datasets: [
      shape([...bBandX.map((x, i) => [x, bBandHigh[i]]), ...bBandX.map((x, i) => [x, bBandLow[i]]).reverse()], "#CFCFCF", "rgba(0,0,0,0)", 0),
      dots(bPts, "#000", 1.8), dots(bDense, "#000", 1.8),
      line(bFit, "#3F66B8", 2),
    ],
    scales: {
      x: lin(bXMin, bXMax, 30, { size: 5.5, keepFrom: 90, gridColor: "#EDEDED", noBorder: true, title: "Risk score", titleSize: 9, color: "#555" }),
      y: lin(bYMin, bYMax, 0.5, { size: 5.5, gridColor: "#EDEDED", noBorder: true, color: "#555", cb: (v: number) => v.toFixed(1) }),
    } },
  // C
  tmbSpec([250, 3, 432, 43], [278.7, 10, 430, 40.7], 8756, 0.8, [{ d: tmbCTiny, c: "#BFC98A" }, { d: tmbCMain, c: "#A6D8A0" }, { d: tmbCTop, c: "#F39C9C" }]),
  withPct(heatSpec([240, 41, 441, 181], [280.7, 43.6, 430, 178], cHeatRows, cHotColumn), pctC),
  annotSpec([278, 179.5, 432, 189.5], [280.7, 180.3, 430, 188.6], "#E9262B", cFustatYellow),
  barsSpec([445, 42, 490, 180], [445.7, 43.6, 488.3, 178], 159, [cBarM, cBarB, cBarR, cBarP, cBarY, cBarK]),
  topAxisSpec([434, 26, 498, 44], [445.7, 41, 488.3, 42], 159),
  // D
  tmbSpec([497, 3, 678, 43], [525, 9.3, 676, 40.7], 73, 0.75, [{ d: tmbDBlue, c: "#2A6FB5" }, { d: tmbDMain, c: "#3FAE49" }, { d: tmbDRed, c: "#F36B6B" }]),
  withPct(heatSpec([488, 41, 688, 181], [527.3, 43.6, 676, 178], dHeatRows), pctD),
  annotSpec([525, 179.5, 678, 189.5], [527.3, 180.3, 676, 188.6], "#3A4FA3", dFustatYellow),
  barsSpec([692, 42, 737, 180], [692.7, 43.6, 735, 178], 222, [dBarM, dBarB, dBarR, dBarP, dBarY, dBarK]),
  topAxisSpec([681, 26, 743, 44], [692.7, 41, 735, 42], 222),
  // E
  { box: [251, 222, 478, 419], plot: [281.7, 228, 474, 398.3], type: "scatter",
    datasets: [
      line(eHigh, KRED, 2, { stepped: true }), line(eLow, KBLUE, 2, { stepped: true }),
      dots(eHighCens, "#F58A8A", 2.4, { pointStyle: "cross", pointBorderWidth: 0.7, pointBorderColor: "#F58A8A" }),
      dots(eLowCens, "#8EA6DA", 2.4, { pointStyle: "cross", pointBorderWidth: 0.7, pointBorderColor: "#8EA6DA" }),
      line([[0, 0.5], [eCuts[1], 0.5]], "#222", 1.1, { borderDash: [4, 3] }),
      ...eCuts.map((t) => line([[t, 0], [t, 0.5]], "#222", 1.1, { borderDash: [4, 3] })),
    ],
    scales: { x: kmXAxis(-1.03, 20.95), y: kmYAxis() } },
  // F
  { box: [499.5, 222, 724, 419], plot: [527.3, 228, 720.7, 398.3], type: "scatter",
    datasets: [
      line(fLL, KGREEN, 2, { stepped: true }), line(fHH, KRED, 2, { stepped: true }),
      line(fLH, KPURPLE, 2, { stepped: true }), line(fHL, KBLUE, 2, { stepped: true }),
      dots(fHHCens, "#F58A8A", 2.4, { pointStyle: "cross", pointBorderWidth: 0.7, pointBorderColor: "#F58A8A" }),
      dots(fLLCens, "#B6DFA3", 2.4, { pointStyle: "cross", pointBorderWidth: 0.7, pointBorderColor: "#B6DFA3" }),
      dots(fLHCens, "#A996C9", 2.4, { pointStyle: "cross", pointBorderWidth: 0.7, pointBorderColor: "#A996C9" }),
      line([[0, 0.5], [fCuts[3], 0.5]], "#111", 1.1, { borderDash: [4, 3] }),
      ...fCuts.map((t) => line([[t, 0], [t, 0.5]], "#111", 1.2, { borderDash: [4, 3] })),
    ],
    scales: { x: kmXAxis(-0.99, 21.02), y: kmYAxis() } },
  // G
  { box: [2, 462, 172, 779], plot: [25, 465.7, 167, 756.7], type: "bar", keepOrder: true, plugins: [frame("#555", 1)],
    datasets: [
      { data: gResponse.map((v, i) => ({ x: i + 1, y: v })), backgroundColor: "#1ABCC4", barPercentage: 0.9, categoryPercentage: 1 },
      { data: gNonResponse.map((v, i) => ({ x: i + 1, y: v })), backgroundColor: "#F6766D", barPercentage: 0.9, categoryPercentage: 1 },
    ],
    scales: {
      x: lin(0.4, 2.6, 1, { stacked: true, offsetFalse: true, gridColor: "#F0F0F0", noBorder: true, size: 7.5, color: "#555", title: "Cluster", titleSize: 10, cb: (v: number) => gClusters[v - 1] ?? "" }),
      y: lin(-0.048, 1.047, 0.125, { stacked: true, gridColor: "#F0F0F0", noBorder: true, size: 6.5, color: "#555", cb: (v: number) => (Math.abs(v * 4 - Math.round(v * 4)) < 1e-6 ? v.toFixed(2) : "") }),
    } },
  // H
  vioSpec([212.4, 456, 395, 595], [228.3, 462, 392.3, 577.7], [-0.35, 3.33, 1], "CD8", 6, [
    bracket(3.13, 3.03),
    ...violin(1, cd8LowV, cd8LowW, VBLUE, cd8Box[0], cd8Out[0]), ...violin(2, cd8HighV, cd8HighW, VRED, cd8Box[1], cd8Out[1]),
  ]),
  vioSpec([381, 456, 566, 595], [399.3, 462, 562.3, 577.7], [-1.04, 13.99, 5], "CD274", 6, [
    bracket(13.3, 12.9),
    ...violin(1, cd274LowV, cd274LowW, VBLUE, cd274Box[0], cd274Out[0]), ...violin(2, cd274HighV, cd274HighW, VRED, cd274Box[1], cd274Out[1]),
  ]),
  vioSpec([563, 456, 744, 595], [582.3, 461.7, 743, 577.7], [-0.208, 1.604, 0.5], "Exclusion", 2, [
    ...violin(1, exLowV, exLowW, VBLUE, exBox[0], exOut[0]), ...violin(2, exHighV, exHighW, VRED, exBox[1], exOut[1]),
    bracket(1.396),
  ], { cb: (v: number) => v.toFixed(1) }),
  vioSpec([211, 634, 395, 773], [231, 640, 391.7, 756], [-78, 698, 200], "IFNG", 0, [
    bracket(656, 620),
    ...violin(1, ifLowV, ifLowW, VBLUE, ifBox[0], ifOut[0]), ...violin(2, ifHighV, ifHighW, VRED, ifBox[1], ifOut[1]),
  ], { ticksAt: ifTicks }),
  vioSpec([379.7, 634, 566, 773], [402.3, 640, 561, 756], [-0.0393, 0.0988, 0.05], "MDSC", 4, [
    ...violin(1, mdLowV, mdLowW, VBLUE, mdBox[0], mdOut[0]), ...violin(2, mdHighV, mdHighW, VRED, mdBox[1], mdOut[1]),
    bracket(0.085),
  ], { cb: (v: number) => v.toFixed(2) }),
  vioSpec([561.5, 632, 744, 773], [583, 638, 743, 756], [-15.9, 153.8, 50], "Merck18", 3, [
    bracket(138, 133),
    ...violin(1, meLowV, meLowW, VBLUE, meBox[0], meOut[0]), ...violin(2, meHighV, meHighW, VRED, meBox[1], meOut[1]),
  ]),
];

function build(s: any) {
  const [x0, y0, x1, y1] = s.box;
  const [l, t, r, b] = s.plot;
  const sides: any = { left: l - x0, right: x1 - r, top: t - y0, bottom: y1 - b };
  const padding: any = { ...sides };
  const scales: any = {};
  for (const id of Object.keys(s.scales)) {
    const sc = { ...s.scales[id] };
    if (sc.display !== false) {
      const pos = sc.position ?? (id[0] === "x" ? "bottom" : "left");
      sc.position = pos;
      const size = sides[pos];
      sc.afterFit = (scale: any) => { if (scale.isHorizontal()) scale.height = size; else scale.width = size; };
      padding[pos] = 0;
    }
    scales[id] = sc;
  }
  const datasets = s.keepOrder ? s.datasets : [...s.datasets].reverse();
  return {
    type: s.type,
    data: { ...(s.labels ? { labels: s.labels } : {}), datasets },
    plugins: s.plugins ?? [],
    options: {
      animation: false, responsive: false, maintainAspectRatio: false, events: [],
      ...(s.indexAxis ? { indexAxis: s.indexAxis } : {}),
      layout: { padding },
      scales,
      plugins: { legend: { display: false }, tooltip: { enabled: false }, title: { display: false } },
    },
  };
}

/* ---------- HTML text helpers ---------- */
function T({ x, y, s, size = 7, a = "left", rot = 0, fam = SERIF, color = INK, bold = false }: any) {
  const tx = a === "left" ? "0" : a === "right" ? "-100%" : "-50%";
  return (
    <div style={{ position: "absolute", left: x, top: y, transform: `translate(${tx},-50%) rotate(${rot}deg)`, font: `${bold ? "bold " : ""}${size}px ${fam}`, color, whiteSpace: "pre", lineHeight: 1 }}>{s}</div>
  );
}
const Sq = ({ x, y, w, h, c, b }: any) => (
  <div style={{ position: "absolute", left: x, top: y, width: w, height: h, background: c, boxSizing: "border-box", border: b ? `0.8px solid ${b}` : undefined }} />
);
function Tag({ x, y, w, h, s }: any) {
  return <div style={{ position: "absolute", left: x, top: y, width: w, height: h, background: "#1c1c1c", color: "#fff", font: `bold ${Math.min(h, 13) - 1}px ${SANS}`, textAlign: "center", lineHeight: `${h}px` }}>{s}</div>;
}
function RiskLegend({ x, y, sq1, low, sq2, high }: any) {
  return (
    <>
      <T x={x} y={y} s="Risk" size={9} />
      <Sq x={sq1} y={y - 4} w={8} h={8} c={VBLUE} b="#444" />
      <T x={low} y={y} s="Low" size={9} />
      <Sq x={sq2} y={y - 4} w={8} h={8} c={VRED} b="#444" />
      <T x={high} y={y} s="High" size={9} />
    </>
  );
}
const mutLegendLeft = [["Missense_Mutation", "#33A02C"], ["Frame_Shift_Del", "#1F78B4"], ["Nonsense_Mutation", "#E31A1C"], ["In_Frame_Ins", "#E8505B"]];
const mutLegendRightC = [["Frame_Shift_Ins", "#6A3D9A"], ["In_Frame_Del", "#FFF59A"], ["Translation_Start_Site", "#FF7F00"], ["Multi_Hit", "#000"]];
const mutLegendLeftD = mutLegendLeft.slice(0, 3);
const mutLegendRightD = [mutLegendRightC[0], mutLegendRightC[1], mutLegendRightC[3]];
function MutLegend({ col1, col2, list1, list2, rs, fu, high, fustat }: any) {
  const rowY = [194.7, 201, 207.3, 213.7];
  return (
    <>
      {list1.map(([n, c]: any, i: number) => (<React.Fragment key={n}><Sq x={col1} y={rowY[i] - 1.5} w={3} h={3} c={c} /><T x={col1 + 5.5} y={rowY[i]} s={n} size={5.3} /></React.Fragment>))}
      {list2.map(([n, c]: any, i: number) => (<React.Fragment key={n}><Sq x={col2} y={rowY[i] - 1.5} w={3} h={3} c={c} /><T x={col2 + 5} y={rowY[i]} s={n} size={5.3} /></React.Fragment>))}
      <T x={rs} y={194.5} s="Risk score" size={5.3} />
      <T x={fu} y={194.5} s="Fustat" size={5.3} />
      <Sq x={high} y={200.8} w={3} h={3} c="#E31A1C" /><T x={high + 6} y={202.3} s="High" size={5.3} />
      <Sq x={high} y={207.2} w={3} h={3} c="#2D4FA3" /><T x={high + 6} y={208.7} s="Low" size={5.3} />
      <Sq x={fustat} y={200.8} w={3} h={3} c="#128A48" /><T x={fustat + 6} y={202.3} s="Alive" size={5.3} />
      <Sq x={fustat} y={207.2} w={3} h={3} c="#F5C518" /><T x={fustat + 6} y={208.7} s="Dead" size={5.3} />
    </>
  );
}
const KLine = ({ x, y, w, c }: any) => <div style={{ position: "absolute", left: x, top: y - 1, width: w, height: 2, background: c }} />;

export default function App() {
  const refs = useRef<(HTMLCanvasElement | null)[]>([]);
  useEffect(() => {
    const charts = specs.map((s, i) => new Chart(refs.current[i] as HTMLCanvasElement, build(s) as any));
    return () => charts.forEach((c) => c.destroy());
  }, []);
  return (
    <div style={{ position: "absolute", left: 0, top: 0, width: 744, height: 779, overflow: "hidden", background: "#fff" }}>
      {specs.map((s, i) => (
        <canvas key={i} ref={(el) => { refs.current[i] = el; }} width={Math.round(s.box[2] - s.box[0])} height={Math.round(s.box[3] - s.box[1])}
          style={{ position: "absolute", left: s.box[0], top: s.box[1] }} />
      ))}
      <Tag x={2} y={2} w={11} h={11} s="A" />
      <Tag x={2} y={201} w={11} h={11} s="B" />
      <Tag x={238} y={3} w={13} h={10} s="C" />
      <Tag x={495} y={3} w={12} h={10} s="D" />
      <Tag x={238} y={202} w={11} h={10} s="E" />
      <Tag x={490} y={202} w={9} h={13} s="F" />
      <Tag x={0} y={438} w={14} h={14} s="G" />
      <Tag x={202} y={442} w={13} h={13} s="H" />

      {/* A */}
      <div style={{ position: "absolute", left: 93, top: 8, width: 9, height: 7, border: `1px solid ${CYAN}`, boxSizing: "border-box" }} />
      <T x={107} y={12} s="Low−risk" size={7} />
      <div style={{ position: "absolute", left: 138, top: 8, width: 9, height: 7, border: `1px solid ${PINK}`, boxSizing: "border-box" }} />
      <T x={152} y={12} s="High−risk" size={7} />
      <T x={136.7} y={31} s="4.4e−13" size={10} a="center" />
      <T x={10.7} y={101} s="Tumor mutation burden" size={10.5} a="center" rot={-90} />
      {/* B */}
      <T x={36} y={241.7} s="R = 0.36 , p < 2.2e−16" size={6.5} />
      <T x={10.7} y={303} s="Tumor mutation burden" size={10.5} a="center" rot={-90} />
      {/* C */}
      <T x={266.7} y={26} s="TMB" size={9} a="center" rot={-90} fam={SANS} />
      <T x={467} y={38.5} s="No. of samples" size={4} a="center" />
      <T x={432.3} y={182.7} s="Risk score" size={5.6} />
      <T x={432.3} y={187.7} s="Fustat" size={5.6} />
      <MutLegend col1={261} col2={325.7} list1={mutLegendLeft} list2={mutLegendRightC} rs={395.7} fu={425} high={399} fustat={428.5} />
      {/* D */}
      <T x={513} y={26} s="TMB" size={9} a="center" rot={-90} fam={SANS} />
      <T x={714} y={38.5} s="No. of samples" size={4} a="center" />
      <T x={678.3} y={182.7} s="Risk score" size={5.6} />
      <T x={678.3} y={187.7} s="Fustat" size={5.6} />
      <MutLegend col1={508.3} col2={566.7} list1={mutLegendLeftD} list2={mutLegendRightD} rs={631} fu={669} high={636.7} fustat={673} />
      {/* E */}
      <KLine x={421} y={261.3} w={8} c={KRED} /><T x={432.7} y={261.3} s="H−TMB" size={9.5} />
      <KLine x={421} y={271.3} w={8} c={KBLUE} /><T x={432.7} y={271.3} s="L−TMB" size={9.5} />
      <T x={310} y={361.7} s="p<0.001" size={11} a="center" />
      {/* F */}
      <KLine x={655} y={252.3} w={7} c={KRED} /><T x={666.7} y={252.3} s="H−TMB+high risk" size={9} />
      <KLine x={655} y={261.7} w={7} c={KBLUE} /><T x={666.7} y={261.7} s="H−TMB+low risk" size={9} />
      <KLine x={655} y={271} w={7} c={KPURPLE} /><T x={666.7} y={271} s="L−TMB+high  risk" size={9} />
      <KLine x={655} y={280.7} w={7} c={KGREEN} /><T x={666.7} y={280.7} s="L−TMB+low risk" size={9} />
      <T x={556} y={361.7} s="p<0.001" size={11} a="center" />
      {/* G */}
      <T x={91.7} y={455.7} s="Immunotherapy (p<0.001)" size={10.5} a="center" />
      <T x={174} y={596} s="Immunotherapy" size={9} />
      <Sq x={174.3} y={605} w={13.4} h={12.7} c="#F6766D" />
      <Sq x={174.3} y={617.7} w={13.4} h={12.7} c="#1ABCC4" />
      <T x={193} y={610.5} s="Non−response" size={9.5} />
      <T x={193} y={624} s="Response" size={9.5} />
      {/* H */}
      <RiskLegend x={270.7} y={449.7} sq1={288} low={298.7} sq2={317} high={327} />
      <RiskLegend x={436} y={451.7} sq1={455} low={464} sq2={481.7} high={493} />
      <RiskLegend x={615.7} y={451.7} sq1={634} low={644} sq2={663} high={672} />
      <RiskLegend x={267.7} y={627.7} sq1={286} low={296} sq2={315} high={325} />
      <RiskLegend x={439.3} y={631} sq1={457.7} low={467.7} sq2={486.7} high={496.7} />
      <RiskLegend x={617.7} y={632.7} sq1={636} low={645.7} sq2={665} high={674.3} />
      <T x={310.7} y={465} s="***" size={6} a="center" />
      <T x={480} y={463} s="***" size={6} a="center" />
      <T x={663} y={471.7} s="***" size={6} a="center" />
      <T x={312} y={643} s="***" size={6} a="center" />
      <T x={482} y={647.7} s="***" size={6} a="center" />
      <T x={663} y={645.7} s="***" size={6} a="center" />
    </div>
  );
}
